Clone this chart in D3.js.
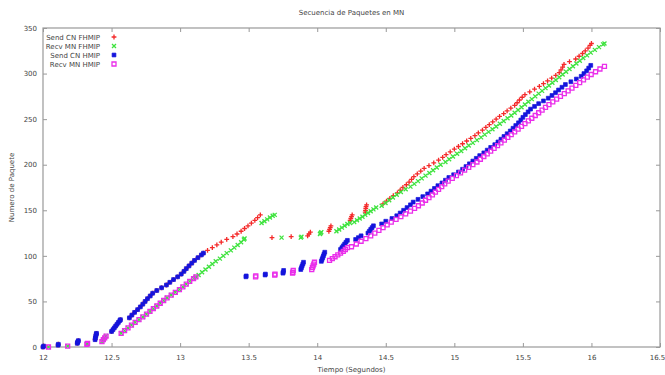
<!DOCTYPE html>
<html>
<head>
<meta charset="utf-8">
<script src="https://cdn.jsdelivr.net/npm/d3@7"></script>
<style>
  html, body { margin: 0; padding: 0; background: #fff; }
  svg { display: block; }
  .axis text { font-family: 'DejaVu Sans', sans-serif; font-size: 7px; fill: #444; }
  .axis line { stroke: #999; }
  .lbl { font-family: 'DejaVu Sans', sans-serif; font-size: 7px; fill: #444; }
</style>
</head>
<body>
<div id="chart"></div>
<script>
// tick labels
const xTicks = [12, 12.5, 13, 13.5, 14, 14.5, 15, 15.5, 16, 16.5];
const yTicks = [0, 50, 100, 150, 200, 250, 300, 350];

// [time (s), packet number]
// early send part, shared by both protocols (red is hidden under blue here)
const sendEarly = [
  [12.00,0],[12.005,1],[12.11,2],[12.112,3],[12.25,4],[12.252,5],[12.255,6],[12.258,7],
  [12.38,8],[12.382,10],[12.385,12],[12.388,14],[12.39,15],
  [12.50,17],[12.51,19],[12.52,21],[12.53,23],[12.54,25],[12.55,27],[12.56,29],[12.565,30],
  [12.630,32],[12.648,35],[12.668,38],[12.690,41],[12.710,44],[12.728,47],[12.745,50],[12.762,53],
  [12.782,56],[12.800,59],[12.830,62],[12.865,65],[12.900,68],[12.925,71],[12.952,74],[12.982,77],
  [13.008,80],[13.028,83],[13.045,86],[13.065,89],[13.085,92],[13.105,95],[13.130,98],[13.155,101],[13.170,103]
];

// early receive part, shared by both protocols (green is hidden under magenta here)
const recvEarly = [
  [12.04,0],[12.18,1],[12.32,3],[12.325,4],
  [12.43,6],[12.44,8],[12.45,10],[12.46,12],
  [12.570,15],[12.595,18],[12.620,21],[12.645,24],[12.672,27],[12.700,30],[12.728,33],[12.755,36],
  [12.780,39],[12.805,42],[12.830,45],[12.855,48],[12.880,51],[12.905,54],[12.935,57],[12.965,60],
  [12.995,63],[13.020,66],[13.045,69],[13.070,72],[13.098,75],[13.115,77]
];

const sendFhmipLate = [
  [13.200,106],[13.235,109],[13.268,112],[13.300,115],[13.340,118],[13.385,121],[13.415,124],[13.445,127],
  [13.470,130],[13.495,133],[13.520,136],[13.545,139],[13.565,142],[13.585,145],
  [13.67,120],[13.81,121],[13.93,122],[13.94,124],[13.95,126],
  [14.085,127],[14.09,129],[14.095,131],[14.10,133],
  [14.24,139],[14.245,141],[14.25,143],[14.255,145],
  [14.35,148],[14.352,150],[14.354,152],[14.356,154],[14.36,156],
  [14.480,157],[14.505,160],[14.530,163],[14.555,166],[14.585,169],[14.605,172],[14.625,175],[14.650,178],
  [14.670,181],[14.688,184],[14.705,187],[14.730,190],[14.755,193],[14.780,196],[14.815,199],[14.850,202],
  [14.885,205],[14.915,208],[14.940,211],[14.970,214],[15.000,217],[15.030,220],[15.060,223],[15.090,226],
  [15.120,229],[15.150,232],[15.175,235],[15.205,238],[15.230,241],[15.255,244],[15.280,247],[15.305,250],
  [15.330,253],[15.360,256],[15.385,259],[15.412,262],[15.440,265],[15.458,268],[15.475,271],[15.495,274],
  [15.515,277],[15.550,280],[15.585,283],[15.620,286],[15.650,289],[15.680,292],[15.710,295],[15.740,298],
  [15.765,301],[15.778,304],[15.790,307],[15.800,310],[15.840,313],[15.885,316],[15.910,319],[15.935,322],
  [15.955,325],[15.975,328],[15.990,331],[16.000,333]
];

const recvFhmipLate = [
  [13.135,79],[13.160,82],[13.185,85],[13.210,88],[13.235,91],[13.260,94],[13.290,97],[13.315,100],
  [13.340,103],[13.370,106],[13.395,109],[13.420,112],[13.445,115],[13.465,118],[13.470,119],
  [13.594,136],[13.615,138],[13.635,140],[13.655,142],[13.675,144],[13.690,145],
  [13.74,120],[13.88,120],[13.885,121],[14.02,124],[14.025,125],[14.03,126],
  [14.14,127],[14.16,129],[14.18,131],[14.20,133],[14.22,135],[14.24,136],
  [14.27,137],[14.29,139],[14.31,141],[14.33,143],[14.35,145],[14.37,147],[14.39,149],[14.41,151],[14.43,153],
  [14.470,155],[14.498,158],[14.525,161],[14.552,164],[14.580,167],[14.610,170],[14.645,173],[14.680,176],
  [14.708,179],[14.735,182],[14.762,185],[14.790,188],[14.818,191],[14.845,194],[14.872,197],[14.900,200],
  [14.935,203],[14.962,206],[14.990,209],[15.020,212],[15.050,215],[15.078,218],[15.105,221],[15.135,224],
  [15.165,227],[15.195,230],[15.222,233],[15.250,236],[15.278,239],[15.305,242],[15.332,245],[15.360,248],
  [15.388,251],[15.415,254],[15.440,257],[15.465,260],[15.490,263],[15.515,266],[15.540,269],[15.565,272],
  [15.590,275],[15.615,278],[15.640,281],[15.665,284],[15.690,287],[15.715,290],[15.740,293],[15.765,296],
  [15.790,299],[15.815,302],[15.840,305],[15.865,308],[15.890,311],[15.915,314],[15.940,317],[15.968,320],
  [15.995,323],[16.025,326],[16.055,329],[16.085,332],[16.095,333]
];

const sendHmipLate = [
  [13.48,77],[13.482,78],[13.62,79],[13.622,80],[13.75,81],[13.752,82],[13.755,84],
  [13.88,85],[13.885,87],[13.89,89],[13.895,91],[13.90,93],
  [14.03,94],[14.035,96],[14.04,98],[14.045,100],[14.05,102],[14.055,104],
  [14.17,107],[14.18,109],[14.19,111],[14.20,113],[14.21,115],[14.22,117],
  [14.28,118],[14.30,120],[14.32,122],
  [14.37,125],[14.38,127],[14.39,129],[14.40,131],[14.41,133],
  [14.470,135],[14.500,138],[14.545,141],[14.580,144],[14.605,147],[14.630,150],[14.655,153],[14.680,156],
  [14.700,159],[14.735,162],[14.770,165],[14.805,168],[14.830,171],[14.855,174],[14.880,177],[14.910,180],
  [14.935,183],[14.960,186],[14.995,189],[15.030,192],[15.060,195],[15.085,198],[15.110,201],[15.135,204],
  [15.160,207],[15.185,210],[15.215,213],[15.240,216],[15.265,219],[15.295,222],[15.318,225],[15.340,228],
  [15.362,231],[15.385,234],[15.408,237],[15.428,240],[15.448,243],[15.468,246],[15.485,249],[15.500,252],
  [15.518,255],[15.538,258],[15.556,261],[15.585,264],[15.615,267],[15.650,270],[15.685,273],[15.712,276],
  [15.738,279],[15.760,282],[15.785,285],[15.810,288],[15.850,291],[15.890,294],[15.925,297],[15.945,300],
  [15.965,303],[15.980,306],[15.995,309]
];

const recvHmipLate = [
  [13.55,77],[13.552,78],[13.69,79],[13.692,80],[13.82,81],[13.822,82],[13.825,84],
  [13.96,85],[13.965,87],[13.97,89],[13.975,91],[13.98,93],
  [14.09,95],[14.11,97],[14.13,99],[14.15,101],[14.17,103],[14.19,105],[14.205,107],[14.22,109],
  [14.250,110],[14.285,113],[14.320,116],[14.355,119],[14.390,122],[14.420,125],[14.450,128],[14.480,131],
  [14.510,134],[14.540,137],[14.575,140],[14.610,143],[14.645,146],[14.680,149],[14.710,152],[14.738,155],
  [14.766,158],[14.790,161],[14.815,164],[14.840,167],[14.862,170],[14.885,173],[14.908,176],[14.930,179],
  [14.955,182],[14.985,185],[15.015,188],[15.045,191],[15.075,194],[15.105,197],[15.135,200],[15.165,203],
  [15.190,206],[15.215,209],[15.240,212],[15.265,215],[15.290,218],[15.315,221],[15.340,224],[15.365,227],
  [15.390,230],[15.415,233],[15.440,236],[15.465,239],[15.490,242],[15.515,245],[15.540,248],[15.565,251],
  [15.590,254],[15.615,257],[15.640,260],[15.665,263],[15.690,266],[15.718,269],[15.746,272],[15.774,275],
  [15.802,278],[15.830,281],[15.858,284],[15.886,287],[15.914,290],[15.942,293],[15.970,296],[15.998,299],
  [16.030,302],[16.062,305],[16.095,308]
];

const seriesNames = ['Send CN FHMIP', 'Recv MN FHMIP', 'Send CN HMIP', 'Recv MN HMIP'];
const seriesColors = ['#f42a2a', '#3ee33e', '#1414dc', '#ea2eea'];
const seriesShapes = ['plus', 'cross', 'square', 'openSquare'];
const seriesData = [
  sendEarly.concat(sendFhmipLate),
  recvEarly.concat(recvFhmipLate),
  sendEarly.concat(sendHmipLate),
  recvEarly.concat(recvHmipLate)
];

const width = 665, height = 375;
const plot = { left: 43, right: 660, top: 28, bottom: 347 };

const svg = d3.select('#chart').append('svg')
  .attr('width', width)
  .attr('height', height);

const x = d3.scaleLinear().domain([12, 16.5]).range([plot.left, plot.right]);
const y = d3.scaleLinear().domain([0, 350]).range([plot.bottom, plot.top]);

// marker paths, centred on 0,0
const markerPath = {
  plus: 'M-2.4,0H2.4M0,-2.4V2.4',
  cross: 'M-2,-2L2,2M-2,2L2,-2',
  square: 'M-1.9,-1.9H1.9V1.9H-1.9Z',
  openSquare: 'M-2,-2H2V2H-2Z'
};

function drawMarker(sel, shape, color) {
  sel.attr('d', markerPath[shape])
    .attr('fill', shape === 'square' ? color : 'none')
    .attr('stroke', color)
    .attr('stroke-width', shape === 'square' ? 0.7 : 1.3);
}

// axes: ticks point inward on all four sides
svg.append('g').attr('class', 'axis')
  .attr('transform', `translate(0,${plot.bottom})`)
  .call(d3.axisBottom(x).tickValues(xTicks).tickFormat(d => d).tickSizeInner(-4).tickSizeOuter(0).tickPadding(8))
  .call(g => g.select('.domain').remove())
  .call(g => g.selectAll('.tick:last-of-type text').attr('dx', -3));

svg.append('g').attr('class', 'axis')
  .attr('transform', `translate(0,${plot.top})`)
  .call(d3.axisTop(x).tickValues(xTicks).tickFormat('').tickSizeInner(-4).tickSizeOuter(0))
  .call(g => g.select('.domain').remove());

svg.append('g').attr('class', 'axis')
  .attr('transform', `translate(${plot.left},0)`)
  .call(d3.axisLeft(y).tickValues(yTicks).tickSizeInner(-4).tickSizeOuter(0).tickPadding(6))
  .call(g => g.select('.domain').remove());

svg.append('g').attr('class', 'axis')
  .attr('transform', `translate(${plot.right},0)`)
  .call(d3.axisRight(y).tickValues(yTicks).tickFormat('').tickSizeInner(-4).tickSizeOuter(0))
  .call(g => g.select('.domain').remove());

// frame
svg.append('rect')
  .attr('x', plot.left).attr('y', plot.top)
  .attr('width', plot.right - plot.left).attr('height', plot.bottom - plot.top)
  .attr('fill', 'none').attr('stroke', '#999').attr('stroke-width', 1.2);

// points, in plot order (later series on top)
seriesData.forEach((data, i) => {
  svg.append('g')
    .selectAll('path')
    .data(data)
    .enter()
    .append('path')
    .attr('transform', d => `translate(${x(d[0])},${y(d[1])})`)
    .call(drawMarker, seriesShapes[i], seriesColors[i]);
});

// legend
const legend = svg.append('g');
seriesNames.forEach((name, i) => {
  const ly = 37 + i * 9;
  legend.append('text').attr('class', 'lbl')
    .attr('x', 100).attr('y', ly + 2.5)
    .attr('text-anchor', 'end')
    .text(name);
  legend.append('path')
    .attr('transform', `translate(114,${ly})`)
    .call(drawMarker, seriesShapes[i], seriesColors[i]);
});

// titles
svg.append('text').attr('class', 'lbl')
  .attr('x', (plot.left + plot.right) / 2).attr('y', 15)
  .attr('text-anchor', 'middle')
  .text('Secuencia de Paquetes en MN');

svg.append('text').attr('class', 'lbl')
  .attr('x', (plot.left + plot.right) / 2).attr('y', 372)
  .attr('text-anchor', 'middle')
  .text('Tiempo (Segundos)');

svg.append('text').attr('class', 'lbl')
  .attr('transform', `translate(14,${(plot.top + plot.bottom) / 2}) rotate(-90)`)
  .attr('text-anchor', 'middle')
  .text('Numero de Paquete');
</script>
</body>
</html>
